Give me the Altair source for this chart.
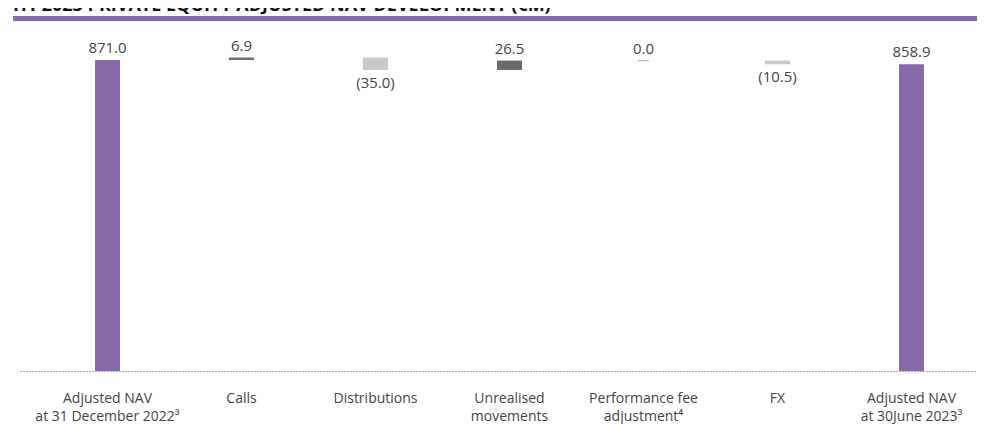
import altair as alt
import pandas as pd

title_text = "H1 2023 PRIVATE EQUITY ADJUSTED NAV DEVELOPMENT (€M)"

categories = [
    "Adjusted NAV\nat 31 December 2022³",
    "Calls",
    "Distributions",
    "Unrealised\nmovements",
    "Performance fee\nadjustment⁴",
    "FX",
    "Adjusted NAV\nat 30June 2023³",
]
is_total = [True, False, False, False, False, False, True]
values = [871.0, 6.9, -35.0, 26.5, 0.0, -10.5, 858.9]

# waterfall geometry from the values
rows = []
running = 0.0
for cat, tot, v in zip(categories, is_total, values):
    if tot:
        start, end = 0.0, v
        kind = "total"
    else:
        start, end = running, running + v
        kind = "up" if v > 0 else ("down" if v < 0 else "zero")
    running = end
    label = f"({abs(v):.1f})" if v < 0 else f"{v:.1f}"
    rows.append(dict(category=cat, start=start, end=end, value=v, kind=kind,
                     label=label, top=max(start, end), bottom=min(start, end)))
df = pd.DataFrame(rows)

PURPLE = "#8669a9"
W, H = 957, 363

x_enc = alt.X(
    "category:N",
    sort=categories,
    scale=alt.Scale(paddingInner=0.0224, paddingOuter=0.0821, align=1),
    axis=alt.Axis(
        title=None,
        labelExpr="split(datum.label, '\\n')",
        ticks=False,
        domainDash=[1, 2],
        domainColor="#555555",
        domainWidth=1,
        labelAngle=0,
        labelPadding=20,
        labelFontSize=14,
        labelLineHeight=18,
        labelColor="#444444",
        labelFont="Open Sans",
        labelOverlap=False,
        labelLimit=0,
    ),
)
y_scale = alt.Scale(domain=[0, 1016.6])

base = alt.Chart(df)

bars = base.transform_filter("datum.kind != 'zero'").mark_bar(width=25).encode(
    x=x_enc,
    y=alt.Y("end:Q", scale=y_scale, axis=None),
    y2="start:Q",
    color=alt.Color(
        "kind:N",
        scale=alt.Scale(domain=["total", "up", "down"],
                        range=[PURPLE, "#6b6b6b", "#c9c9c9"]),
        legend=None,
    ),
)

zero_tick = base.transform_filter("datum.kind == 'zero'").mark_tick(
    size=11, thickness=1.5, color="#a8a8a8"
).encode(x=x_enc, y=alt.Y("end:Q", scale=y_scale, axis=None))

labels_up = base.transform_filter("datum.value >= 0").mark_text(
    baseline="alphabetic", dy=-7, fontSize=15, font="Open Sans", color="#444444"
).encode(x=x_enc, y=alt.Y("top:Q", scale=y_scale, axis=None), text="label:N")

labels_down = base.transform_filter("datum.value < 0").mark_text(
    baseline="top", dy=6, fontSize=15, font="Open Sans", color="#444444"
).encode(x=x_enc, y=alt.Y("bottom:Q", scale=y_scale, axis=None), text="label:N")

title_df = pd.DataFrame({"t": [title_text]})
title_line = alt.Chart(title_df).mark_rule(color=PURPLE, strokeWidth=5).encode(
    x=alt.value(-7), x2=alt.value(W), y=alt.value(10.5)
)
title_mark = alt.Chart(title_df).mark_text(
    align="left", baseline="alphabetic", fontSize=18, fontWeight="bold",
    font="Open Sans", color="#111111"
).encode(x=alt.value(-7), y=alt.value(3), text="t:N")

chart = (
    alt.layer(bars, zero_tick, labels_up, labels_down, title_line, title_mark)
    .properties(
        width=W,
        height=H,
        autosize=alt.AutoSizeParams(type="none"),
        padding={"left": 12, "top": 0, "right": 0, "bottom": 53},
        background="white",
    )
    .configure_view(stroke=None)
)

chart.save("out.html", embed_options={"renderer": "svg", "actions": False})
